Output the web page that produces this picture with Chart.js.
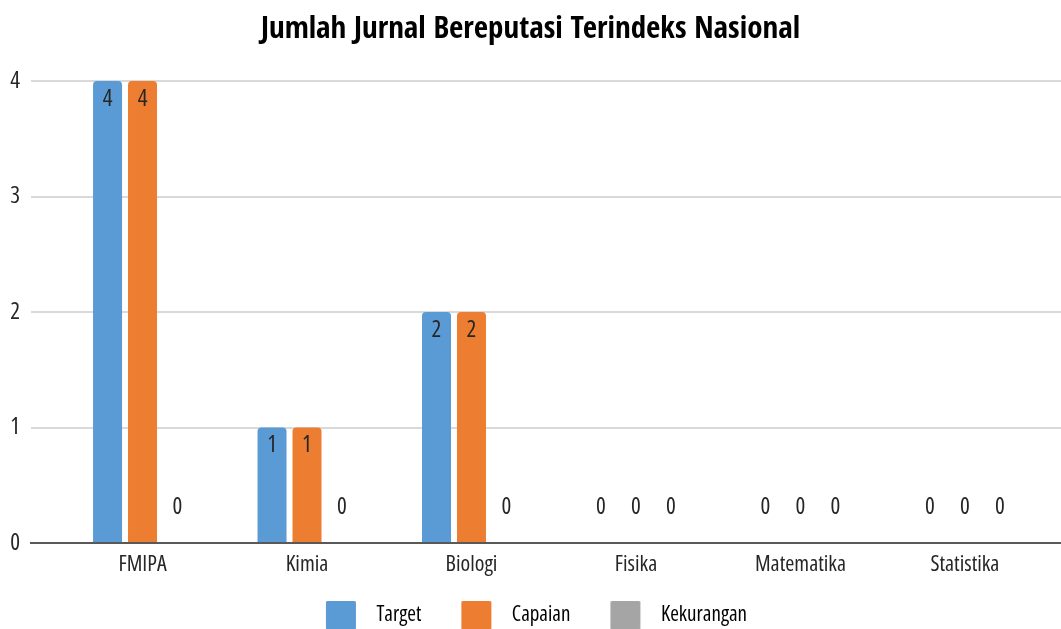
<!DOCTYPE html>
<html>
<head>
<meta charset="utf-8">
<script src="https://cdn.jsdelivr.net/npm/chart.js@4.4.1/dist/chart.umd.min.js"></script>
<style>
  html, body { margin: 0; padding: 0; background: #ffffff; overflow: hidden; }
  #wrap { width: 1061px; height: 629px; position: relative; }
</style>
</head>
<body>
<div id="wrap"><canvas id="c" width="1061" height="629"></canvas></div>
<script>
const chartTitle = 'Jumlah Jurnal Bereputasi Terindeks Nasional';
const categories = ['FMIPA', 'Kimia', 'Biologi', 'Fisika', 'Matematika', 'Statistika'];
const seriesNames = ['Target', 'Capaian', 'Kekurangan'];
const targetValues = [4, 1, 2, 0, 0, 0];
const capaianValues = [4, 1, 2, 0, 0, 0];
const kekuranganValues = [0, 0, 0, 0, 0, 0];
const yTicks = [0, 1, 2, 3, 4];

const FONT = "'Open Sans', 'Roboto', sans-serif";
const TITLE_FONT = "'Open Sans Condensed', 'Roboto', sans-serif";
const THIN = 'condensed';
const colors = ['#5B9BD5', '#ED7D31', '#A5A5A5'];
const textColor = '#262626';

function toPoints(arr) { return arr.map((v, i) => ({ x: i, y: v })); }

// legend swatch: small lead-in, a 30x30 rounded square, then a short gap
function makeSwatch(color) {
  const c = document.createElement('canvas');
  c.width = 52; c.height = 30;
  const g = c.getContext('2d');
  g.fillStyle = color;
  g.beginPath();
  if (g.roundRect) { g.roundRect(12, 0, 30, 30, 2); } else { g.rect(12, 0, 30, 30); }
  g.fill();
  return c;
}
const swatches = colors.map(makeSwatch);

const valueLabels = {
  id: 'valueLabels',
  afterDatasetsDraw(chart) {
    const ctx = chart.ctx;
    ctx.save();
    ctx.font = THIN + ' 23px ' + FONT;
    ctx.fillStyle = textColor;
    ctx.textAlign = 'center';
    ctx.textBaseline = 'middle';
    chart.data.datasets.forEach((ds, di) => {
      const meta = chart.getDatasetMeta(di);
      meta.data.forEach((el, i) => {
        const v = ds.data[i].y;
        const y = v > 0 ? el.y + 18 : el.y - 36;
        ctx.fillText(String(v), el.x, y);
      });
    });
    ctx.restore();
  }
};

const xMin = -0.678, xMax = 5.584;

new Chart(document.getElementById('c'), {
  type: 'bar',
  data: {
    datasets: [
      { label: seriesNames[0], data: toPoints(targetValues), backgroundColor: colors[0] },
      { label: seriesNames[1], data: toPoints(capaianValues), backgroundColor: colors[1] },
      { label: seriesNames[2], data: toPoints(kekuranganValues), backgroundColor: colors[2] }
    ]
  },
  options: {
    responsive: false,
    animation: false,
    devicePixelRatio: 1,
    layout: { padding: { left: 0, right: 0, top: 0, bottom: -7 } },
    datasets: {
      bar: {
        categoryPercentage: 0.638,
        barPercentage: 0.829,
        borderRadius: { topLeft: 4, topRight: 4, bottomLeft: 0, bottomRight: 0 },
        borderSkipped: 'start'
      }
    },
    plugins: {
      title: {
        display: true,
        text: chartTitle,
        color: '#000000',
        font: { family: TITLE_FONT, size: 31, weight: 'bold', lineHeight: 1.2 },
        padding: { top: 11, bottom: 32.8 }
      },
      legend: {
        position: 'bottom',
        labels: {
          usePointStyle: true,
          pointStyleWidth: 52,
          padding: 28,
          color: textColor,
          font: { family: FONT, size: 21, weight: THIN },
          generateLabels(chart) {
            return chart.data.datasets.map((ds, i) => ({
              text: ds.label,
              fillStyle: ds.backgroundColor,
              strokeStyle: ds.backgroundColor,
              lineWidth: 0,
              pointStyle: swatches[i],
              hidden: !chart.isDatasetVisible(i),
              datasetIndex: i
            }));
          }
        }
      },
      tooltip: { enabled: false }
    },
    scales: {
      x: {
        type: 'linear',
        offset: false,
        min: xMin,
        max: xMax,
        grid: { display: false, offset: false },
        border: { display: true, color: '#595959', width: 2 },
        ticks: {
          padding: 1,
          color: textColor,
          font: { family: FONT, size: 22, weight: THIN },
          callback: (v) => (Number.isInteger(v) && categories[v] !== undefined) ? categories[v] : ''
        },
        afterBuildTicks(scale) {
          scale.ticks = categories.map((c, i) => ({ value: i }));
        },
        afterFit(scale) { scale.height = 34; }
      },
      y: {
        min: yTicks[0],
        max: yTicks[yTicks.length - 1],
        grid: { color: '#d9d9d9', lineWidth: 2, drawTicks: false },
        border: { display: false },
        ticks: {
          stepSize: 1,
          padding: 11,
          color: textColor,
          font: { family: FONT, size: 23, weight: THIN }
        },
        afterBuildTicks(scale) {
          scale.ticks = yTicks.map(v => ({ value: v }));
        },
        afterFit(scale) { scale.width = 31; }
      }
    }
  },
  plugins: [valueLabels]
});
</script>
</body>
</html>
